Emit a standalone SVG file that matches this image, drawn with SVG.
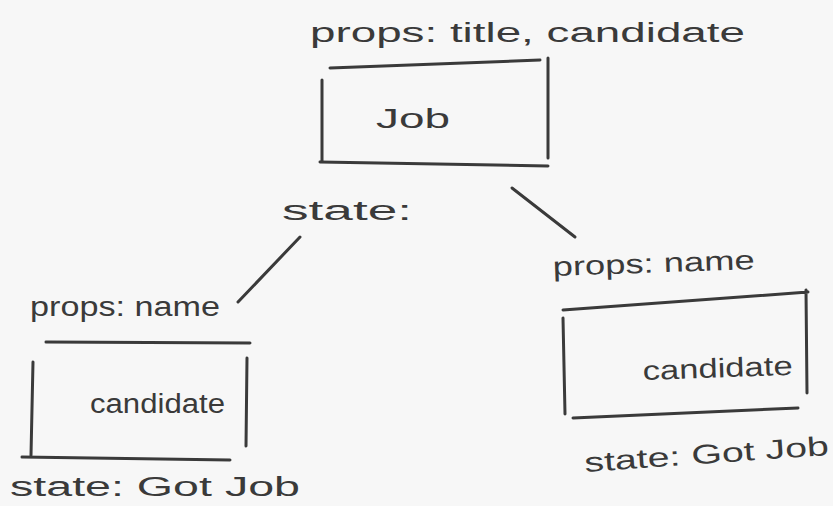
<svg xmlns="http://www.w3.org/2000/svg" width="833" height="506" viewBox="0 0 833 506">
<style>
.ink{fill:none;stroke:#3a3a3a;stroke-width:3;stroke-linecap:round}
.t{font-family:"Liberation Sans","DejaVu Sans",sans-serif;fill:#3a3a3a;font-size:27px}
</style>
<rect width="833" height="506" fill="#f7f7f7"/>
<g id="job">
<text class="t" x="310" y="42" textLength="435" lengthAdjust="spacingAndGlyphs">props: title, candidate</text>
<path class="ink" d="M330 68 L540 60 M322 80 L322 160 M548 58 L548 158 M320 162 L548 166"/>
<text class="t" x="376" y="128" textLength="74" lengthAdjust="spacingAndGlyphs">Job</text>
<text class="t" x="282" y="220" textLength="130" lengthAdjust="spacingAndGlyphs">state:</text>
</g>
<g id="candidate-left">
<text class="t" x="30" y="316" textLength="190" lengthAdjust="spacingAndGlyphs">props: name</text>
<path class="ink" d="M46 342 L250 343 M33 362 L31 455 M247 358 L246 446 M22 457 L230 460"/>
<text class="t" x="90" y="413" textLength="135" lengthAdjust="spacingAndGlyphs">candidate</text>
<text class="t" x="10" y="496" font-size="25" textLength="290" lengthAdjust="spacingAndGlyphs">state:  Got Job</text>
</g>
<g id="candidate-right">
<text class="t" x="553" y="276" textLength="202" lengthAdjust="spacingAndGlyphs" transform="rotate(-2 553 276)">props: name</text>
<path class="ink" d="M563 310 L808 292 M563 318 L565 414 M806 290 L807 393 M573 418 L798 408"/>
<text class="t" x="643" y="380" textLength="150" lengthAdjust="spacingAndGlyphs" transform="rotate(-2 643 380)">candidate</text>
<text class="t" x="585" y="472" textLength="245" lengthAdjust="spacingAndGlyphs" transform="rotate(-4 585 472)">state: Got Job</text>
</g>
<g id="connectors">
<path class="ink" d="M300 237 L238 302"/>
<path class="ink" d="M512 188 L575 237"/>
</g>
</svg>
